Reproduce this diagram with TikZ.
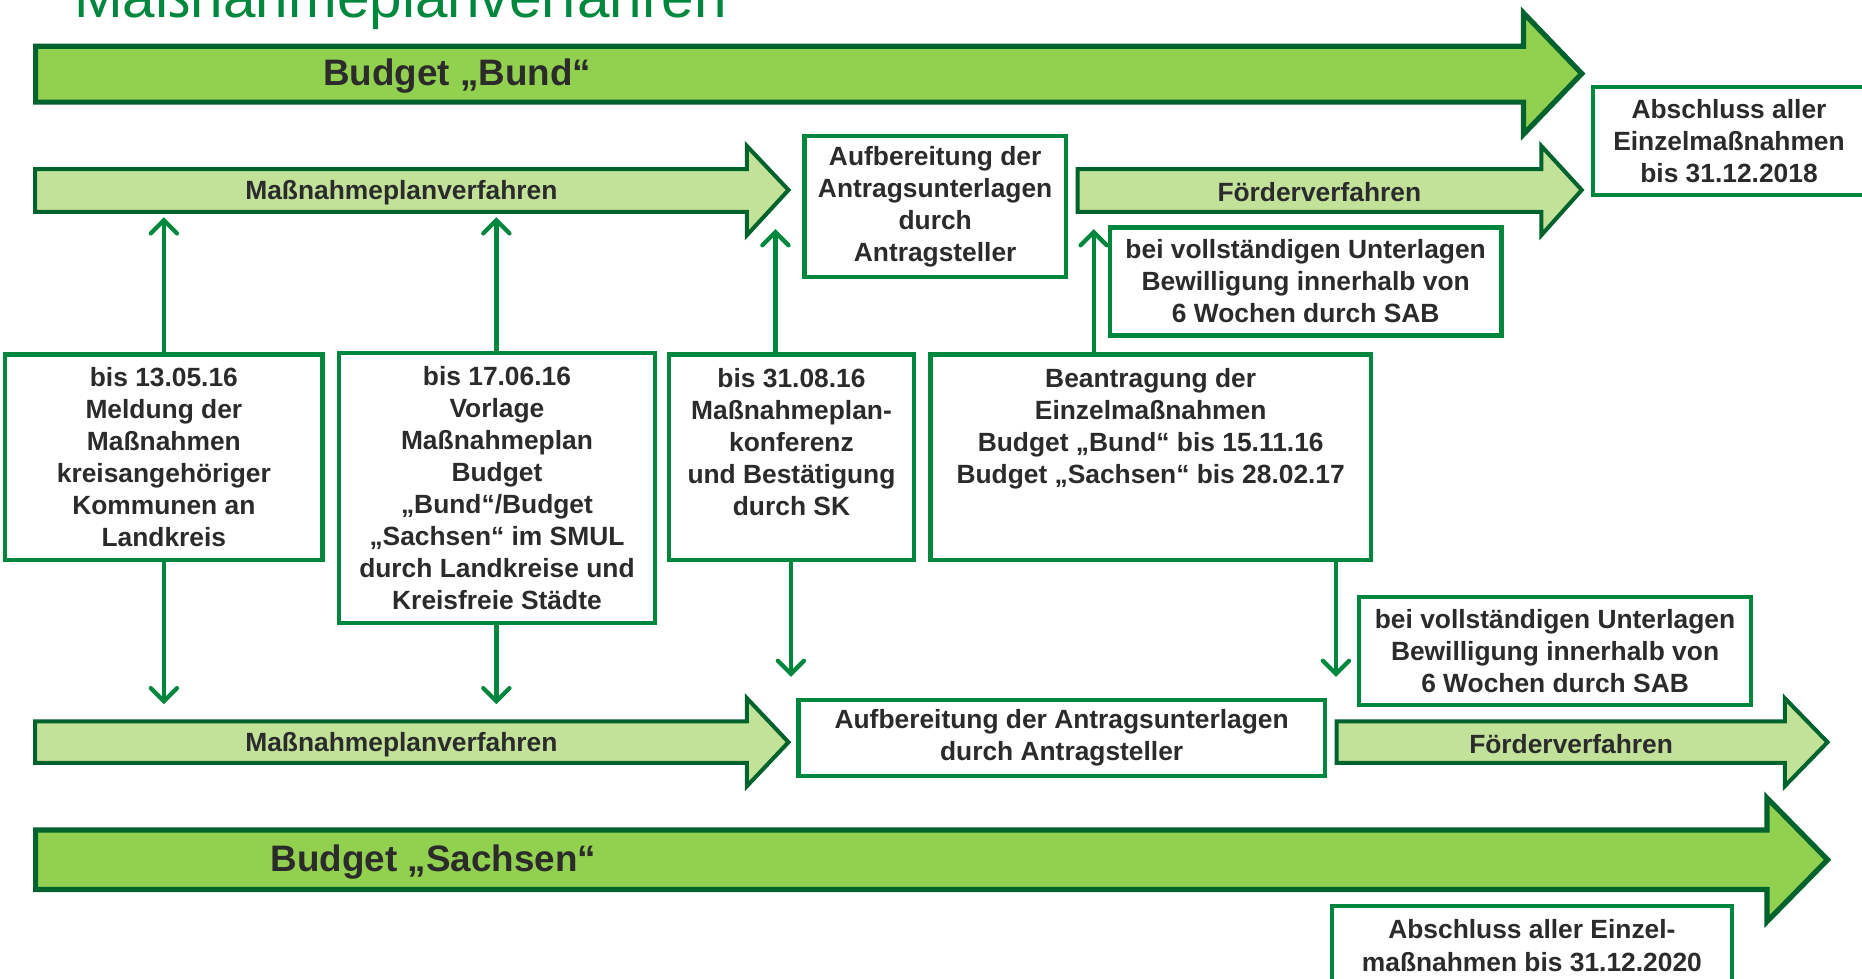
\documentclass[tikz,border=0pt]{standalone}
\usepackage{fontspec}
\setmainfont{Liberation Sans}
\usetikzlibrary{arrows.meta}
\definecolor{bigfill}{HTML}{92D050}
\definecolor{smallfill}{HTML}{C2E29A}
\definecolor{arrowline}{HTML}{00632E}
\definecolor{boxline}{HTML}{00873E}
\definecolor{txt}{HTML}{2B2B2B}
\newcommand\bxfont{\fontsize{11.1pt}{13.5pt}\selectfont\bfseries}
\newcommand\bgfont{\fontsize{15.5pt}{18pt}\selectfont\bfseries}
\newcommand\ttlfont{\fontsize{24.6pt}{28pt}\selectfont}
\begin{document}
\begin{tikzpicture}[x=0.5pt,y=-0.5pt,
  bigarrow/.style={fill=bigfill,draw=arrowline,line width=2.2pt,line join=miter},
  smallarrow/.style={fill=smallfill,draw=arrowline,line width=1.7pt,line join=miter},
  box/.style={draw=boxline,line width=1.8pt,fill=white,inner sep=0pt,text=txt,font=\bxfont,align=center},
  boxtext/.style={text=txt,font=\bxfont,align=center,inner sep=0pt},
  arrowtext/.style={text=txt,font=\bxfont,inner sep=0pt},
  bigtext/.style={text=txt,font=\bgfont,inner sep=0pt},
  conn/.style={draw=boxline,line width=1.8pt,-{Straight Barb[length=5.5pt,width=11pt,line cap=round]}},
]
\useasboundingbox (0,0) rectangle (1568,824);

% title
\node[anchor=base west,text=boxline,font=\ttlfont,inner sep=0pt] (title) at (62,15) {Maßnahmeplanverfahren};

% big arrows
\draw[bigarrow] (30,39) -- (1283,39) -- (1283,11) -- (1332,62) -- (1283,113) -- (1283,86) -- (30,86) -- cycle;
\node[bigtext] (bund) at (385,64) {Budget „Bund“};
\draw[bigarrow] (30,699) -- (1488,699) -- (1488,672) -- (1539,724) -- (1488,776) -- (1488,749) -- (30,749) -- cycle;
\node[bigtext] (sachsen) at (365,726) {Budget „Sachsen“};

% small arrows upper
\draw[smallarrow] (29.5,142.5) -- (629,142.5) -- (629,123) -- (664,160) -- (629,198) -- (629,178.5) -- (29.5,178.5) -- cycle;
\node[arrowtext] (mp1) at (338,162) {Maßnahmeplanverfahren};
\draw[smallarrow] (907.5,142.5) -- (1298,142.5) -- (1298,123) -- (1332,160) -- (1298,198) -- (1298,178.5) -- (907.5,178.5) -- cycle;
\node[arrowtext] (fv1) at (1111,162) {Förderverfahren};

% small arrows lower
\draw[smallarrow] (29.5,607.5) -- (629,607.5) -- (629,588) -- (664,625) -- (629,662) -- (629,642.5) -- (29.5,642.5) -- cycle;
\node[arrowtext] (mp2) at (338,627) {Maßnahmeplanverfahren};
\draw[smallarrow] (1125.5,607.5) -- (1503,607.5) -- (1503,588) -- (1539,625) -- (1503,662) -- (1503,642.5) -- (1125.5,642.5) -- cycle;
\node[arrowtext] (fv2) at (1323,627) {Förderverfahren};

% boxes
\node[box,minimum width=110pt,minimum height=59.5pt] (aufb1) at (787.5,174) {Aufbereitung der\\Antragsunterlagen\\durch\\Antragsteller};
\node[box,minimum width=114.5pt,minimum height=45.5pt] (abs1) at (1456,119) {Abschluss aller\\Einzelmaßnahmen\\bis 31.12.2018};
\node[box,minimum width=165pt,minimum height=45.5pt] (bei1) at (1099.5,237) {bei vollständigen Unterlagen\\Bewilligung innerhalb von\\6 Wochen durch SAB};
\node[box,minimum width=133.5pt,minimum height=86.5pt] (bA) at (138,385) {bis 13.05.16\\Meldung der\\Maßnahmen\\kreisangehöriger\\Kommunen an\\Landkreis};
\node[box,minimum width=133pt,minimum height=113.5pt] (bB) at (418.5,411) {bis 17.06.16\\Vorlage\\Maßnahmeplan\\Budget\\„Bund“/Budget\\„Sachsen“ im SMUL\\durch Landkreise und\\Kreisfreie Städte};
\node[box,minimum width=103pt,minimum height=86.5pt] (bC) at (666.5,385) {};
\node[boxtext,anchor=north] (tC) at ([yshift=-6.5pt]bC.north) {bis 31.08.16\\Maßnahmeplan-\\konferenz\\und Bestätigung\\durch SK};
\node[box,minimum width=185.5pt,minimum height=86.5pt] (bD) at (969,385) {};
\node[boxtext,anchor=north] (tD) at ([yshift=-6.5pt]bD.north) {Beantragung der\\Einzelmaßnahmen\\Budget „Bund“ bis 15.11.16\\Budget „Sachsen“ bis 28.02.17};
\node[box,minimum width=165pt,minimum height=45.5pt] (bei2) at (1309.5,548) {bei vollständigen Unterlagen\\Bewilligung innerhalb von\\6 Wochen durch SAB};
\node[box,minimum width=221.5pt,minimum height=32pt] (aufb2) at (894,621.5) {Aufbereitung der Antragsunterlagen\\durch Antragsteller};
\node[box,minimum width=168.5pt,minimum height=33.5pt,anchor=north] (abs2) at (1290,761) {Abschluss aller Einzel-\\maßnahmen bis 31.12.2020};

% connector end points
\coordinate (aUp) at (138,183);
\coordinate (bUp) at (418,183);
\coordinate (cUp) at (653,193);
\coordinate (dUp) at (921,193);
\coordinate (aDn) at (138,593);
\coordinate (bDn) at (418,593);
\coordinate (cDn) at (666,570);
\coordinate (dDn) at (1125,570);

% connectors
\draw[conn] (bA.north) -- (aUp);
\draw[conn] (bB.north -| bUp) -- (bUp);
\draw[conn] (bC.north -| cUp) -- (cUp);
\draw[conn] (bD.north -| dUp) -- (dUp);
\draw[conn] (bA.south) -- (aDn);
\draw[conn] (bB.south -| bDn) -- (bDn);
\draw[conn] (bC.south -| cDn) -- (cDn);
\draw[conn] (bD.south -| dDn) -- (dDn);
\end{tikzpicture}
\end{document}
